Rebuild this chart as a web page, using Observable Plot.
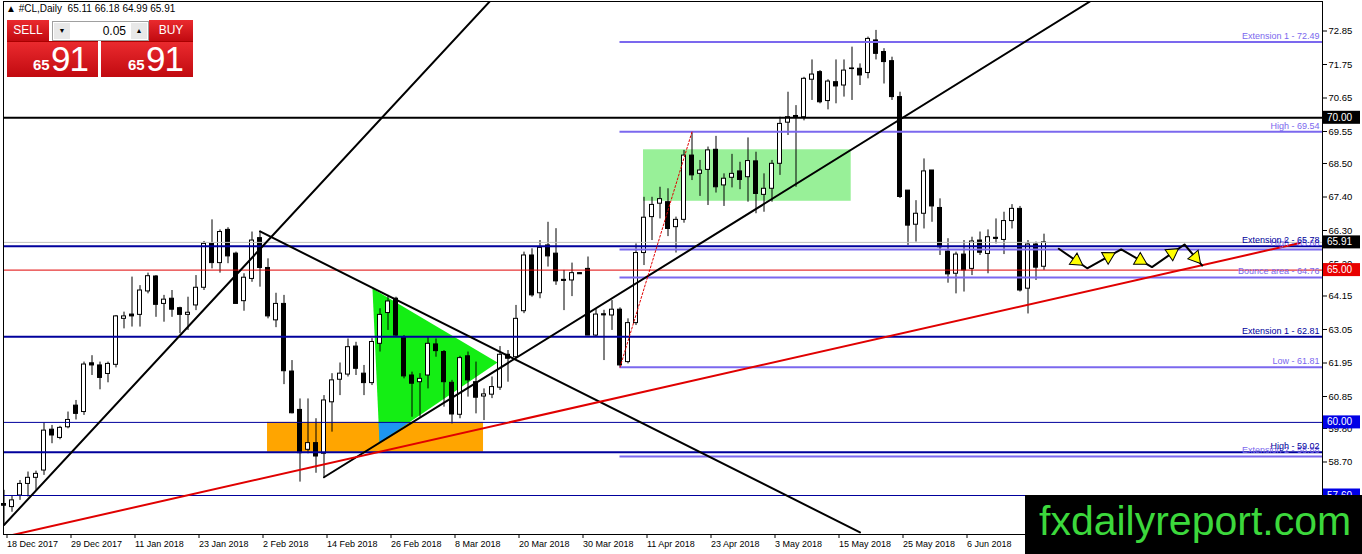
<!DOCTYPE html>
<html><head><meta charset="utf-8">
<script src="https://cdn.jsdelivr.net/npm/d3@7"></script>
<script src="https://cdn.jsdelivr.net/npm/@observablehq/plot@0.6"></script>
<style>
body{margin:0;background:#fff;}
#wrap{position:relative;width:1362px;height:554px;overflow:hidden;font-family:"Liberation Sans",Arial,sans-serif;}
.abs{position:absolute;}
.red{background:linear-gradient(#ea2a2e,#c10a10);color:#fff;}
</style></head><body>
<div id="wrap"></div>
<script>
// ---- data (daily CL candles, bar index 0 = 18 Dec 2017) ----
const opens=[57.32,57.22,57.60,57.98,58.18,58.42,59.76,59.49,59.84,60.55,
60.34,61.94,61.87,61.59,61.89,63.40,63.54,63.53,64.30,64.79,
63.89,64.06,63.75,63.53,63.84,64.42,65.86,65.23,66.32,65.54,
63.98,64.71,66.05,65.07,63.35,63.89,61.67,60.41,59.10,59.32,
58.97,60.66,61.40,61.57,62.49,61.60,61.29,62.58,63.59,64.06,
62.80,61.54,61.32,61.54,62.56,62.31,61.30,60.25,62.17,61.32,
60.85,60.91,61.14,62.22,62.14,63.65,65.48,64.24,65.81,65.54,
64.68,64.66,64.90,65.04,62.85,63.55,63.51,63.70,61.98,63.26,
65.56,66.74,67.18,67.23,66.41,66.65,68.76,68.16,68.29,68.95,
67.78,68.03,68.24,68.05,68.57,67.47,67.67,68.49,69.84,70.06,
70.02,71.25,71.50,70.55,71.17,71.06,71.60,71.61,71.47,72.54,
72.16,71.86,70.68,67.61,66.49,66.85,68.27,67.04,65.61,64.88,
65.51,65.04,65.97,65.53,66.06,65.99,66.61,67.01,64.39,65.84,65.11];
const highs=[57.77,57.60,58.09,58.37,58.40,59.98,59.90,59.87,60.34,60.72,
61.98,62.19,61.98,61.98,63.51,63.62,64.77,64.49,64.90,64.82,
64.17,64.33,63.78,64.11,64.82,65.94,66.65,66.32,66.39,65.59,
64.88,66.25,66.28,65.37,64.24,64.17,62.03,60.77,60.77,60.12,
60.88,61.60,61.95,62.74,62.63,61.87,62.75,63.73,64.17,64.11,
62.85,61.65,61.60,62.80,62.74,62.36,61.38,62.17,62.31,61.98,
61.10,61.49,62.49,62.36,63.84,65.59,65.70,65.97,66.57,66.36,
64.99,65.23,64.92,65.43,63.73,63.68,64.00,63.76,63.40,65.86,
67.39,67.39,67.72,67.67,66.74,68.93,69.54,68.60,69.04,69.39,
68.16,68.80,68.54,69.34,68.87,68.16,68.60,70.02,70.84,70.40,
71.33,71.90,71.55,71.25,71.90,71.90,72.32,71.77,72.65,72.87,
72.27,71.99,70.84,67.61,67.28,68.65,68.27,67.34,66.03,65.59,
65.97,66.08,66.25,66.32,66.68,66.90,67.15,67.09,65.97,65.92,66.18];
const lows=[56.67,57.05,57.44,57.55,57.77,58.26,59.30,59.43,59.79,60.08,
60.23,61.54,61.07,61.30,61.79,63.07,63.13,63.13,64.22,63.45,
63.29,63.45,62.91,63.02,63.67,64.33,65.04,64.90,65.21,63.89,
63.65,64.60,64.44,63.40,63.11,61.24,60.28,58.04,58.97,58.33,
58.20,59.68,60.88,61.49,61.54,60.88,61.21,62.31,63.02,62.80,
61.43,60.17,60.17,61.10,62.14,60.50,59.95,60.12,60.83,60.28,
60.06,60.78,61.05,61.32,62.09,63.57,64.11,64.06,65.10,64.50,
63.67,64.13,64.86,62.85,62.80,62.03,63.02,61.81,61.92,63.18,
65.15,65.97,66.68,66.10,65.56,66.54,67.94,67.42,67.12,67.53,
67.09,67.70,67.64,67.23,66.85,66.90,67.23,68.11,69.42,67.72,
69.90,70.57,70.46,70.26,70.46,70.68,70.57,71.06,71.28,71.90,
71.11,70.57,67.35,65.81,65.92,66.35,66.57,65.48,64.57,64.22,
64.28,64.82,65.48,64.88,65.86,65.51,66.35,64.28,63.56,64.66,64.99];
const closes=[57.28,57.44,57.98,58.18,58.31,59.73,59.57,59.82,60.08,60.28,
61.90,61.87,61.46,61.92,63.48,63.48,63.48,64.33,64.80,63.86,
64.03,63.70,63.53,63.60,64.42,65.86,65.23,66.25,65.45,63.89,
64.75,65.97,65.07,63.48,63.89,61.68,60.30,58.99,59.32,58.88,
60.72,61.38,61.60,62.47,61.76,61.29,62.64,63.53,63.97,62.85,
61.51,61.27,61.43,62.58,62.34,61.32,60.26,62.11,61.38,60.81,
60.92,61.16,62.22,62.09,63.40,65.48,64.17,65.73,65.45,64.63,
64.66,64.90,64.88,62.85,63.54,63.53,63.70,61.87,63.26,65.56,
66.72,67.14,67.33,66.35,66.65,68.76,68.11,68.27,68.93,67.72,
68.00,68.16,67.96,68.58,67.50,67.67,68.49,69.80,70.02,70.02,
71.28,71.42,70.51,71.19,71.03,71.55,71.62,71.39,72.59,72.10,
71.83,70.68,67.40,66.46,66.85,68.24,67.09,65.75,64.86,65.51,
64.99,65.94,65.57,66.08,66.04,66.61,67.01,64.33,65.84,65.08,65.91];

const dateLabels=["18 Dec 2017","29 Dec 2017","11 Jan 2018","23 Jan 2018","2 Feb 2018","14 Feb 2018","26 Feb 2018","8 Mar 2018","20 Mar 2018","30 Mar 2018","11 Apr 2018","23 Apr 2018","3 May 2018","15 May 2018","25 May 2018","6 Jun 2018"];
const dateTickBars=[0,8,16,24,32,40,48,56,64,72,80,88,96,104,112,120];
const priceTicks=[72.85,71.75,70.65,69.55,68.50,67.40,66.30,65.20,64.15,63.05,61.95,60.85,59.80,58.70,57.60];

// horizontal levels
const blackLevels=[70.00];
const redLevels=[65.00];
const navyThickLevels=[65.78,62.81,59.02];
const navyThickNames=["Extension 2 - 65.78","Extension 1 - 62.81","High - 59.02"];
const navyThinLevels=[60.00,57.60];
const bidPrice=65.91;
// fibo-style levels starting at the swing low bar
const fiboStartBar=77;
const fiboLevels=[72.49,69.54,65.68,64.76,61.81,58.88];
const fiboNames=["Extension 1 - 72.49","High - 69.54","High - 65.68","Bounce area - 64.76","Low - 61.81","Extension 2 - 58.88"];
// axis price markers
const markerPrices=[70.00,65.91,65.00,60.00,57.60];

// trend lines (bar, price)
const upLineBlack={bars:[0,61],prices:[56.63,73.90]};
const downLineBlack={bars:[32,107],prices:[66.27,56.39]};
const triLowerBlack={bars:[40,136],prices:[58.20,73.86]};
const redTrend={bars:[0,162],prices:[56.24,65.89]};
const redDotted={bars:[77,86],prices:[61.81,69.54]};
const zigBars=[131.85,135.4,139.65,143.5,147.56,149.78];
const zigPrices=[65.70,65.06,65.68,65.10,65.84,65.15];

// shapes
const orangeBars=[32.94,59.94], orangePrices=[59.02,60.00];
const paleBars=[79.94,105.9], palePrices=[67.26,68.95];
const triBars=[46.06,61.69,46.94], triPrices=[64.40,61.97,59.34];
const overlapBars=[46.83,50.63,46.94], overlapPrices=[60.00,60.00,59.34];

// ---- build ----
const xDom=[-0.0625,164.8125], xRange=[3,1322];
const yDom=[57.60,72.85], yRange=[495,30.5];
const pxPerBar=(xRange[1]-xRange[0])/(xDom[1]-xDom[0]);
const pxPerPrice=(yRange[0]-yRange[1])/(yDom[1]-yDom[0]);
const xEnd=xDom[1];

const bars=d3.range(opens.length).map(i=>({i,o:opens[i],h:highs[i],l:lows[i],c:closes[i]}));
const ups=bars.filter(d=>d.c>=d.o), downs=bars.filter(d=>d.c<d.o);
const dojis=bars.filter(d=>Math.abs(d.c-d.o)<0.05);
const pts=(o)=>o.bars.map((b,k)=>({b,p:o.prices[k]}));
const poly=(bs,ps)=>bs.map((b,k)=>({b,p:ps[k]}));
const zig=poly(zigBars,zigPrices);
const heads=d3.pairs(zig).map(([a,b])=>{
  const dx=(b.b-a.b)*pxPerBar, dy=-(b.p-a.p)*pxPerPrice;
  return {b:a.b+0.62*(b.b-a.b), p:a.p+0.62*(b.p-a.p), ang:Math.atan2(dx,-dy)*180/Math.PI};
});
const lineOpts={x:"b",y:"p",clip:true};

const NAVY="#00009c", SLATE="#7b68ee";

const plot=Plot.plot({
  width:1362,height:554,marginLeft:3,marginRight:40,marginTop:1,marginBottom:20,
  x:{type:"linear",domain:xDom,range:xRange,axis:null},
  y:{type:"linear",domain:yDom,range:yRange,axis:null},
  style:{fontFamily:"'Liberation Sans',Arial,sans-serif",fontSize:"9px",background:"#fff",color:"#000"},
  marks:[
    // background shapes
    Plot.rect([0],{x1:()=>orangeBars[0],x2:()=>orangeBars[1],y1:()=>orangePrices[0],y2:()=>orangePrices[1],fill:"#ffa500"}),
    Plot.rect([0],{x1:()=>paleBars[0],x2:()=>paleBars[1],y1:()=>palePrices[0],y2:()=>palePrices[1],fill:"#98f098"}),
    Plot.line(poly(triBars,triPrices),{x:"b",y:"p",curve:"linear-closed",fill:"#14ee14",stroke:"none"}),
    Plot.line(poly(overlapBars,overlapPrices),{x:"b",y:"p",curve:"linear-closed",fill:"#1e96f0",stroke:"none"}),
    // candles
    Plot.ruleX(bars,{x:"i",y1:"l",y2:"h",stroke:"#000",strokeWidth:1}),
    Plot.rect(ups,{x1:d=>d.i-0.25,x2:d=>d.i+0.25,y1:"o",y2:"c",fill:"#fff",stroke:"#000",strokeWidth:1}),
    Plot.rect(downs,{x1:d=>d.i-0.25,x2:d=>d.i+0.25,y1:"o",y2:"c",fill:"#000",stroke:"#000",strokeWidth:1}),
    Plot.ruleY(dojis,{y:"c",x1:d=>d.i-0.3,x2:d=>d.i+0.3,stroke:"#000",strokeWidth:1}),
    // horizontal levels
    Plot.ruleY([bidPrice],{stroke:"#c0c0c0",strokeWidth:1}),
    Plot.ruleY(fiboLevels,{x1:()=>fiboStartBar,x2:()=>xEnd,stroke:SLATE,strokeWidth:2}),
    Plot.ruleY(navyThickLevels,{stroke:NAVY,strokeWidth:2}),
    Plot.ruleY(navyThinLevels,{stroke:NAVY,strokeWidth:1}),
    Plot.ruleY(redLevels,{stroke:"#e00000",strokeWidth:1}),
    Plot.ruleY(blackLevels,{stroke:"#000",strokeWidth:2}),
    // trend lines
    Plot.line(pts(upLineBlack),{...lineOpts,stroke:"#000",strokeWidth:2}),
    Plot.line(pts(downLineBlack),{...lineOpts,stroke:"#000",strokeWidth:2}),
    Plot.line(pts(triLowerBlack),{...lineOpts,stroke:"#000",strokeWidth:2}),
    Plot.line(pts(redTrend),{...lineOpts,stroke:"#e00000",strokeWidth:2}),
    Plot.line(pts(redDotted),{...lineOpts,stroke:"#e00000",strokeWidth:1,strokeDasharray:"2,2"}),
    // projected path
    Plot.line(zig,{x:"b",y:"p",stroke:"#000",strokeWidth:2}),
    Plot.dot(heads,{x:"b",y:"p",symbol:"triangle",r:5,rotate:"ang",fill:"#ffff00",stroke:"#000",strokeWidth:1}),
    // level texts
    Plot.text(fiboLevels,{x:()=>xEnd,y:d=>d,text:(d,i)=>fiboNames[i],textAnchor:"end",dx:-3,dy:-6,fill:SLATE,fontSize:9}),
    Plot.text(navyThickLevels,{x:()=>xEnd,y:d=>d,text:(d,i)=>navyThickNames[i],textAnchor:"end",dx:-3,dy:-6,fill:NAVY,fontSize:9}),
    Plot.frame({stroke:"#000"}),
    Plot.axisY({anchor:"right",ticks:priceTicks,tickFormat:d=>d.toFixed(2),tickSize:4,tickPadding:2,fontSize:9.5,label:null}),
    Plot.axisX({anchor:"bottom",ticks:dateTickBars,tickFormat:d=>dateLabels[dateTickBars.indexOf(d)],tickSize:4,tickPadding:2,textAnchor:"start",dx:3,fontSize:9,label:null})
  ]
});
document.getElementById("wrap").appendChild(plot);

// price markers on the axis
const ys=plot.scale("y");
const markerFill={70:"#000",65.91:"#000",65:"#e80000",60:"#0000e6",57.6:"#0000e6"};
const svg=d3.select(plot);
markerPrices.forEach(p=>{
  const y=ys.apply(p);
  svg.append("rect").attr("x",1323).attr("y",y-6.5).attr("width",37).attr("height",13).attr("fill",markerFill[p]);
  svg.append("text").attr("x",1327).attr("y",y+3.5).attr("text-anchor","start").attr("fill","#fff").attr("font-size",10).attr("font-family","'Liberation Sans',Arial,sans-serif").text(p.toFixed(2));
});

// overlays (header, trade panel, logo)
const wrap=document.getElementById("wrap");
wrap.insertAdjacentHTML("beforeend",`
<div class="abs" style="left:6px;top:3px;font-size:10px;color:#000;white-space:pre">▲ #CL,Daily  65.11 66.18 64.99 65.91</div>
<div class="abs red" style="left:7px;top:20px;width:42px;height:21px;font-size:12px;line-height:21px;text-align:center">SELL</div>
<div class="abs red" style="left:149px;top:20px;width:44px;height:21px;font-size:12px;line-height:21px;text-align:center">BUY</div>
<div class="abs" style="left:52px;top:21px;width:95px;height:18px;background:#fff;border:1px solid #a0a0a0">
  <div class="abs" style="left:1px;top:1px;width:16px;height:16px;background:#e8e8e8;font-size:7px;line-height:16px;text-align:center">▼</div>
  <div class="abs" style="right:22px;top:0;font-size:12px;line-height:18px">0.05</div>
  <div class="abs" style="right:1px;top:1px;width:16px;height:16px;background:#e8e8e8;font-size:7px;line-height:16px;text-align:center">▲</div>
</div>
<div class="abs red" style="left:7px;top:41px;width:91px;height:35px;border-top:1px solid #a00">
  <span class="abs" style="left:26px;top:14px;font-size:15px;font-weight:bold">65</span>
  <span class="abs" style="left:44px;top:-3px;font-size:35px;letter-spacing:-1px">91</span>
</div>
<div class="abs red" style="left:101px;top:41px;width:92px;height:35px;border-top:1px solid #a00">
  <span class="abs" style="left:27px;top:14px;font-size:15px;font-weight:bold">65</span>
  <span class="abs" style="left:45px;top:-3px;font-size:35px;letter-spacing:-1px">91</span>
</div>
<div class="abs" style="left:1025px;top:495px;width:337px;height:59px;background:#000">
  <div class="abs" style="left:14px;top:3px;font-size:41px;color:#3cd83c;white-space:nowrap">fxdailyreport.com</div>
</div>`);
</script>
</body></html>
